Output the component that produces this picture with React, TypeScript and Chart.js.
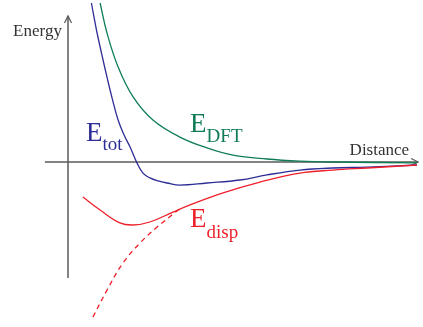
import React, { useEffect, useRef } from "react";
import { Chart, registerables } from "chart.js";

Chart.register(...registerables);

// Distance (x) and energy (y) values
const totX = [0.78, 0.97, 1.13, 1.3, 1.47, 1.67, 1.87, 2.07, 2.3, 2.5, 2.73, 3.0, 3.3, 3.73, 4.63, 5.73, 6.63, 7.73, 8.83, 9.97, 11.63];
const totY = [5.3, 4.3, 3.57, 2.83, 2.13, 1.4, 0.9, 0.5, -0.03, -0.37, -0.53, -0.63, -0.7, -0.77, -0.7, -0.6, -0.43, -0.27, -0.2, -0.17, -0.1];

const dftX = [1.07, 1.3, 1.67, 2.17, 2.83, 3.73, 4.63, 5.5, 6.63, 7.73, 8.83, 11.63];
const dftY = [5.3, 4.3, 3.17, 2.17, 1.4, 0.83, 0.47, 0.23, 0.1, 0.03, 0.0, -0.03];

const dispX = [0.5, 1.07, 1.73, 2.17, 2.73, 3.5, 4.07, 5.17, 6.4, 7.73, 8.83, 9.97, 11.63];
const dispY = [-1.17, -1.6, -2.03, -2.1, -2.0, -1.67, -1.43, -1.03, -0.67, -0.37, -0.27, -0.2, -0.1];

const dispTailX = [0.83, 1.3, 1.83, 2.4, 2.97, 3.8];
const dispTailY = [-5.17, -4.27, -3.37, -2.7, -2.17, -1.5];

const BLUE = "#2d2d96";
const GREEN = "#0e7d55";
const RED = "#ee1f2a";
const AXIS = "#5a5a5a";
const SERIF = '"Liberation Serif", "DejaVu Serif", serif';

const pts = (xs: number[], ys: number[]) => xs.map((x, i) => ({ x, y: ys[i] }));

const overlay = {
  id: "overlay",
  beforeDatasetsDraw(chart: any) {
    const { ctx, scales } = chart;
    const xs = scales.x;
    const ys = scales.y;
    const x0 = xs.getPixelForValue(0);
    const y0 = ys.getPixelForValue(0);
    ctx.save();
    ctx.strokeStyle = AXIS;
    ctx.lineWidth = 1.5;
    const yTop = ys.getPixelForValue(4.87);
    const yBot = ys.getPixelForValue(-3.87);
    ctx.beginPath();
    ctx.moveTo(x0, yBot);
    ctx.lineTo(x0, yTop);
    ctx.stroke();
    ctx.lineWidth = 1.2;
    ctx.beginPath();
    ctx.moveTo(x0 - 3.5, yTop + 7);
    ctx.lineTo(x0, yTop);
    ctx.lineTo(x0 + 3.5, yTop + 7);
    ctx.stroke();
    ctx.lineWidth = 1.5;
    const xL = xs.getPixelForValue(-0.77);
    const xR = xs.getPixelForValue(11.67);
    ctx.beginPath();
    ctx.moveTo(xL, y0);
    ctx.lineTo(xR, y0);
    ctx.stroke();
    ctx.lineWidth = 1.2;
    ctx.beginPath();
    ctx.moveTo(xR - 7, y0 - 3.5);
    ctx.lineTo(xR, y0);
    ctx.lineTo(xR - 7, y0 + 3.5);
    ctx.stroke();
    ctx.restore();
  },
  afterDatasetsDraw(chart: any) {
    const { ctx, scales } = chart;
    const xs = scales.x;
    const ys = scales.y;
    ctx.save();
    ctx.textBaseline = "alphabetic";
    ctx.fillStyle = "#333333";
    ctx.font = `17px ${SERIF}`;
    ctx.textAlign = "left";
    ctx.fillText("Energy", xs.getPixelForValue(-1.83), ys.getPixelForValue(4.2));
    ctx.textAlign = "right";
    ctx.fillText("Distance", xs.getPixelForValue(11.37), ys.getPixelForValue(0.23));
    ctx.textAlign = "left";
    const label = (sub: string, x: number, y: number, color: string, drop: number) => {
      const px = xs.getPixelForValue(x);
      const py = ys.getPixelForValue(y);
      ctx.fillStyle = color;
      ctx.font = `27px ${SERIF}`;
      ctx.fillText("E", px, py);
      const w = ctx.measureText("E").width;
      ctx.font = `19px ${SERIF}`;
      ctx.fillText(sub, px + w, py + drop);
    };
    label("tot", 0.6, 0.7, BLUE, 9);
    label("DFT", 4.07, 1.0, GREEN, 10);
    label("disp", 4.07, -2.17, RED, 11);
    ctx.restore();
  },
};

export default function App() {
  const ref = useRef<HTMLCanvasElement | null>(null);
  useEffect(() => {
    if (!ref.current) return;
    const common = {
      showLine: true,
      pointRadius: 0,
      borderWidth: 1.3,
      tension: 0.4,
      fill: false,
      clip: false as any,
    };
    const chart = new Chart(ref.current, {
      type: "scatter",
      data: {
        datasets: [
          { ...common, label: "E_DFT", data: pts(dftX, dftY), borderColor: GREEN },
          { ...common, label: "E_disp tail", data: pts(dispTailX, dispTailY), borderColor: RED, borderDash: [5, 4] },
          { ...common, label: "E_disp", data: pts(dispX, dispY), borderColor: RED },
          { ...common, label: "E_tot", data: pts(totX, totY), borderColor: BLUE },
        ],
      },
      options: {
        animation: false,
        responsive: false,
        maintainAspectRatio: false,
        layout: { padding: 0 },
        plugins: { legend: { display: false }, tooltip: { enabled: false } },
        scales: {
          x: { type: "linear", display: false, min: -68 / 30, max: (423 - 68) / 30 },
          y: { type: "linear", display: false, min: -165 / 30, max: 162 / 30 },
        },
      },
      plugins: [overlay],
    });
    return () => chart.destroy();
  }, []);
  return (
    <div style={{ position: "absolute", left: 0, top: 0, width: 423, height: 327, background: "#fff" }}>
      <canvas ref={ref} width={423} height={327} style={{ display: "block", width: 423, height: 327 }} />
    </div>
  );
}
